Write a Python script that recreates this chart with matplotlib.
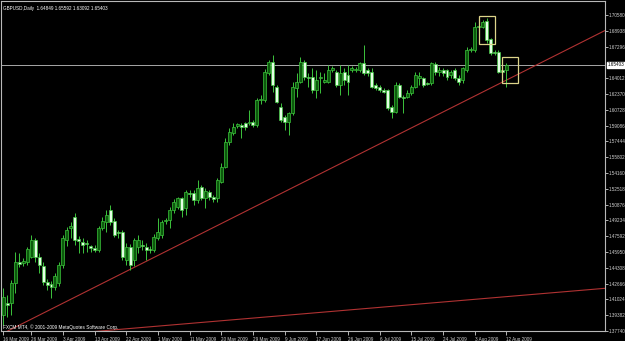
import numpy as np
import matplotlib.pyplot as plt
from matplotlib.patches import Rectangle

symbol = "GBPUSD,Daily"

# daily bars, 16 Mar 2009 .. 13 Aug 2009
opens = [1.3944, 1.4069, 1.4069, 1.4277, 1.4494, 1.4484, 1.4494, 1.4546, 1.4723, 1.4546,
         1.4453, 1.4287, 1.4266, 1.4235, 1.4277, 1.4463, 1.4723, 1.4848, 1.4962, 1.4734,
         1.4702, 1.4692, 1.4661, 1.4640, 1.4619, 1.4848, 1.4910, 1.5034, 1.4920, 1.4806,
         1.4806, 1.4515, 1.4650, 1.4515, 1.4650, 1.4671, 1.4650, 1.4629, 1.4619, 1.4744,
         1.4775, 1.4920, 1.4930, 1.5034, 1.5065, 1.5159, 1.5055, 1.5211, 1.5211, 1.5138,
         1.5273, 1.5159, 1.5221, 1.5169, 1.5159, 1.5325, 1.5480, 1.5740, 1.5834, 1.5906,
         1.5917, 1.5938, 1.5938, 1.5948, 1.5917, 1.6176, 1.6176, 1.6456, 1.6570, 1.6311,
         1.6103, 1.6000, 1.5948, 1.6041, 1.6301, 1.6363, 1.6570, 1.6415, 1.6415, 1.6280,
         1.6405, 1.6363, 1.6363, 1.6487, 1.6467, 1.6332, 1.6467, 1.6436, 1.6487, 1.6487,
         1.6487, 1.6560, 1.6487, 1.6467, 1.6332, 1.6311, 1.6280, 1.6280, 1.6103, 1.6051,
         1.6332, 1.6207, 1.6207, 1.6249, 1.6311, 1.6405, 1.6405, 1.6353, 1.6353, 1.6549,
         1.6467, 1.6487, 1.6487, 1.6436, 1.6487, 1.6405, 1.6384, 1.6487, 1.6695, 1.6695,
         1.6934, 1.6934, 1.6996, 1.6809, 1.6674, 1.6674, 1.6487, 1.64849]
highs = [1.4225, 1.4152, 1.4308, 1.4598, 1.4588, 1.4536, 1.4650, 1.4775, 1.4744, 1.4588,
         1.4494, 1.4318, 1.4297, 1.4380, 1.4494, 1.4775, 1.4858, 1.4910, 1.5003, 1.4765,
         1.4744, 1.4723, 1.4671, 1.4671, 1.4868, 1.4962, 1.5034, 1.5086, 1.4951, 1.4827,
         1.4827, 1.4692, 1.4681, 1.4744, 1.4775, 1.4723, 1.4692, 1.4661, 1.4785, 1.4951,
         1.4930, 1.4951, 1.5065, 1.5148, 1.5169, 1.5169, 1.5242, 1.5242, 1.5242, 1.5346,
         1.5294, 1.5263, 1.5242, 1.5190, 1.5367, 1.5522, 1.5782, 1.5886, 1.5938, 1.5938,
         1.5938, 1.5948, 1.6072, 1.5968, 1.6197, 1.6228, 1.6498, 1.6591, 1.6643, 1.6332,
         1.6145, 1.6020, 1.6051, 1.6363, 1.6456, 1.6622, 1.6591, 1.6456, 1.6508, 1.6487,
         1.6467, 1.6456, 1.6539, 1.6529, 1.6487, 1.6539, 1.6508, 1.6539, 1.6529, 1.6518,
         1.6570, 1.6747, 1.6508, 1.6508, 1.6353, 1.6332, 1.6301, 1.6290, 1.6124, 1.6363,
         1.6353, 1.6228, 1.6280, 1.6332, 1.6467, 1.6467, 1.6415, 1.6363, 1.6570, 1.6570,
         1.6518, 1.6508, 1.6498, 1.6487, 1.6508, 1.6436, 1.6518, 1.6726, 1.6726, 1.6985,
         1.6985, 1.7006, 1.7027, 1.6820, 1.6695, 1.6695, 1.6508, 1.65592]
lows = [1.3840, 1.3923, 1.3944, 1.4173, 1.4442, 1.4453, 1.4463, 1.4536, 1.4494, 1.4380,
        1.4256, 1.4204, 1.4121, 1.4204, 1.4246, 1.4432, 1.4661, 1.4744, 1.4671, 1.4588,
        1.4588, 1.4598, 1.4598, 1.4598, 1.4598, 1.4827, 1.4806, 1.4879, 1.4754, 1.4744,
        1.4515, 1.4463, 1.4411, 1.4453, 1.4588, 1.4619, 1.4515, 1.4588, 1.4598, 1.4723,
        1.4744, 1.4889, 1.4848, 1.5003, 1.5044, 1.4962, 1.4982, 1.5169, 1.5086, 1.5107,
        1.5138, 1.5055, 1.5138, 1.5117, 1.5117, 1.5315, 1.5470, 1.5709, 1.5813, 1.5886,
        1.5782, 1.5865, 1.5917, 1.5896, 1.5896, 1.6135, 1.6155, 1.6436, 1.6259, 1.6145,
        1.5948, 1.5865, 1.5813, 1.6020, 1.6207, 1.6353, 1.6384, 1.6311, 1.6249, 1.6197,
        1.6249, 1.6353, 1.6353, 1.6467, 1.6311, 1.6228, 1.6332, 1.6228, 1.6467, 1.6467,
        1.6467, 1.6436, 1.6425, 1.6301, 1.6280, 1.6259, 1.6249, 1.6072, 1.5989, 1.6041,
        1.6197, 1.6041, 1.6197, 1.6228, 1.6301, 1.6332, 1.6311, 1.6332, 1.6332, 1.6436,
        1.6425, 1.6425, 1.6384, 1.6405, 1.6384, 1.6332, 1.6353, 1.6467, 1.6674, 1.6674,
        1.6882, 1.6923, 1.6768, 1.6643, 1.6643, 1.6456, 1.6363, 1.63092]
closes = [1.4131, 1.4048, 1.4277, 1.4494, 1.4473, 1.4505, 1.4629, 1.4723, 1.4546, 1.4463,
          1.4287, 1.4256, 1.4235, 1.4349, 1.4463, 1.4744, 1.4827, 1.4868, 1.4723, 1.4713,
          1.4671, 1.4681, 1.4640, 1.4619, 1.4848, 1.4920, 1.4982, 1.4910, 1.4775, 1.4796,
          1.4546, 1.4650, 1.4463, 1.4723, 1.4723, 1.4661, 1.4619, 1.4619, 1.4754, 1.4806,
          1.4910, 1.4930, 1.5034, 1.5117, 1.5159, 1.5034, 1.5221, 1.5200, 1.5138, 1.5263,
          1.5159, 1.5232, 1.5169, 1.5148, 1.5346, 1.5480, 1.5740, 1.5844, 1.5896, 1.5927,
          1.5896, 1.5896, 1.5948, 1.5917, 1.6176, 1.6187, 1.6467, 1.6570, 1.6332, 1.6155,
          1.5968, 1.5948, 1.6041, 1.6311, 1.6363, 1.6570, 1.6415, 1.6405, 1.6280, 1.6384,
          1.6415, 1.6384, 1.6487, 1.6508, 1.6332, 1.6456, 1.6384, 1.6363, 1.6508, 1.6498,
          1.6560, 1.6456, 1.6456, 1.6311, 1.6301, 1.6280, 1.6259, 1.6093, 1.6051, 1.6332,
          1.6207, 1.6197, 1.6249, 1.6311, 1.6436, 1.6425, 1.6332, 1.6342, 1.6560, 1.6467,
          1.6487, 1.6456, 1.6415, 1.6467, 1.6405, 1.6363, 1.6508, 1.6695, 1.6705, 1.6934,
          1.6944, 1.6985, 1.6799, 1.6664, 1.6664, 1.6467, 1.6467, 1.65403]

date_labels = ["16 Mar 2009", "26 Mar 2009", "3 Apr 2009", "13 Apr 2009", "22 Apr 2009",
               "1 May 2009", "11 May 2009", "20 May 2009", "29 May 2009", "9 Jun 2009",
               "17 Jun 2009", "26 Jun 2009", "6 Jul 2009", "15 Jul 2009", "24 Jul 2009",
               "3 Aug 2009", "12 Aug 2009"]

price_ticks = [1.37740, 1.39382, 1.41024, 1.42666, 1.44308, 1.45950, 1.47592, 1.49234,
               1.50876, 1.52518, 1.54160, 1.55802, 1.57444, 1.59086, 1.60728, 1.62370,
               1.64012, 1.67296, 1.68938, 1.70580]

# drawn objects: (bar, price) anchors
trend_main = [(0, 1.3752), (127, 1.6381)]
trend_low = [(21, 1.3762), (127, 1.4131)]
boxes = [((120, 1.7048), (124, 1.6754)), ((126, 1.6619), (130, 1.6349))]

fg = "#d0d0d0"
edge = "#3cc43c"
bull_fill = "#0c5a0c"
bear_fill = "#e4ffe4"
font = ["Liberation Sans", "DejaVu Sans"]
fs = 3.3

o = np.array(opens)
h = np.array(highs)
l = np.array(lows)
c = np.array(closes)
x = np.arange(len(o))

fig = plt.figure(figsize=(6.25, 3.41), dpi=100, facecolor="black")
ax = fig.add_axes([1 / 625, 10 / 341, 604 / 625, 330 / 341])
ax.set_facecolor("black")
ax.set_xlim(-0.63, 151.9)
ax.set_ylim(1.3777, 1.7203)

# bid line
ax.axhline(c[-1], color="#a8a8a8", lw=0.7, zorder=1)

# trend lines, drawn from the first anchor as rays to the right edge
for (x0, p0), (x1, p1) in (trend_main, trend_low):
    k = (p1 - p0) / (x1 - x0)
    xe = ax.get_xlim()[1]
    ax.plot([x0, xe], [p0, p0 + k * (xe - x0)], color="#b03232", lw=0.8, zorder=2)

# candles
ax.vlines(x, l, h, color=edge, lw=0.7, zorder=3)
up = c >= o
ax.bar(x[up], c[up] - o[up], bottom=o[up], width=0.75, color=bull_fill,
       edgecolor=edge, lw=0.5, zorder=4)
ax.bar(x[~up], o[~up] - c[~up], bottom=c[~up], width=0.75, color=bear_fill,
       edgecolor=edge, lw=0.5, zorder=4)

for (bx0, py0), (bx1, py1) in boxes:
    ax.add_patch(Rectangle((bx0, py1), bx1 - bx0, py0 - py1, fill=False,
                           edgecolor="#ddd48a", lw=0.9, zorder=5))

for s in ax.spines.values():
    s.set_color("#b8b8b8")
    s.set_linewidth(0.8)

ax.yaxis.tick_right()
ax.set_yticks(price_ticks)
ax.set_yticklabels([f"{p:.5f}" for p in price_ticks])
ax.tick_params(axis="y", colors=fg, length=2, width=0.6, pad=0.8, labelsize=fs)
for t in ax.get_yticklabels():
    t.set_family(font)

ax.set_xticks([0] + list(range(7, len(o), 8)))
ax.set_xticklabels(date_labels, ha="left")
ax.tick_params(axis="x", colors=fg, length=3, width=0.6, pad=1, labelsize=fs)
for t in ax.get_xticklabels():
    t.set_family(font)

ax.text(1.004, c[-1], f"{c[-1]:.5f}", transform=ax.get_yaxis_transform(),
        ha="left", va="center", fontsize=fs, family=font, color="black",
        bbox=dict(boxstyle="square,pad=0.12", fc="white", ec="white"), clip_on=False)

header = f"{symbol}  {o[-1]:.5f} {h[-1]:.5f} {l[-1]:.5f} {c[-1]:.5f}"
ax.text(0.004, 0.978, header, transform=ax.transAxes, ha="left", va="center",
        fontsize=fs, family=font, color="white")
ax.text(0.004, 0.013, "FXCM MT4, \u00a9 2001-2009 MetaQuotes Software Corp.",
        transform=ax.transAxes, ha="left", va="center", fontsize=3.4, family=font,
        color="white")

fig.savefig("out.png", dpi=100, facecolor="black")
